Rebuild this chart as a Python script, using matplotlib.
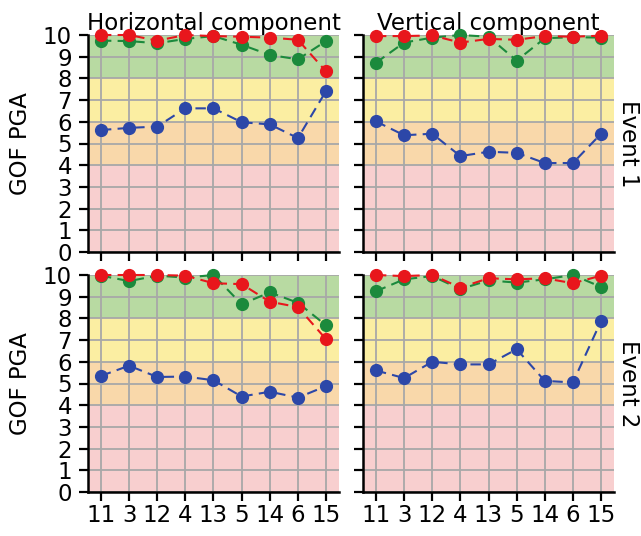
import matplotlib
matplotlib.use("Agg")
import matplotlib.pyplot as plt
import numpy as np

categories = ["11", "3", "12", "4", "13", "5", "14", "6", "15"]

# Event 1, horizontal component
e1_h_red   = [10.0, 10.0, 9.74, 10.0, 9.95, 9.92, 9.88, 9.78, 8.32]
e1_h_green = [9.74, 9.72, 9.62, 9.82, 9.95, 9.55, 9.08, 8.88, 9.72]
e1_h_blue  = [5.62, 5.72, 5.78, 6.62, 6.62, 5.98, 5.88, 5.25, 7.42]
# Event 1, vertical component
e1_v_red   = [9.95, 9.95, 9.98, 9.65, 9.82, 9.78, 9.95, 9.92, 9.97]
e1_v_green = [8.72, 9.65, 9.88, 10.0, 9.92, 8.82, 9.85, 9.9, 9.88]
e1_v_blue  = [6.02, 5.38, 5.45, 4.42, 4.62, 4.57, 4.1, 4.1, 5.45]
# Event 2, horizontal component
e2_h_red   = [10.0, 10.0, 10.0, 9.97, 9.62, 9.58, 8.77, 8.52, 7.04]
e2_h_green = [9.97, 9.72, 9.97, 9.88, 10.0, 8.65, 9.2, 8.72, 7.68]
e2_h_blue  = [5.35, 5.82, 5.3, 5.32, 5.15, 4.4, 4.62, 4.35, 4.88]
# Event 2, vertical component
e2_v_red   = [10.0, 9.95, 10.0, 9.42, 9.85, 9.8, 9.85, 9.62, 9.97]
e2_v_green = [9.25, 9.8, 9.95, 9.35, 9.75, 9.65, 9.8, 10.0, 9.45]
e2_v_blue  = [5.6, 5.25, 6.0, 5.88, 5.88, 6.58, 5.12, 5.05, 7.88]

col_titles = ["Horizontal component", "Vertical component"]
row_labels = ["Event 1", "Event 2"]
ylabel = "GOF PGA"
yticks = list(range(0, 11))

bands = [(0, 4, "#f8cfcf"), (4, 6, "#f9d8aa"), (6, 8, "#fbeea2"), (8, 10, "#b8daa2")]
c_red, c_green, c_blue = "#e8161c", "#1b8a3c", "#2c47a8"

panels = [
    [(e1_h_blue, e1_h_green, e1_h_red), (e1_v_blue, e1_v_green, e1_v_red)],
    [(e2_h_blue, e2_h_green, e2_h_red), (e2_v_blue, e2_v_green, e2_v_red)],
]

W, H = 641, 536
fig = plt.figure(figsize=(W / 100, H / 100), dpi=100)
lefts = [88 / W, 363 / W]
width = 251 / W
bottoms = [1 - 252 / H, 1 - 492 / H]
height = 217 / H

x = np.arange(len(categories))
fs = 16.5
for r in range(2):
    for c in range(2):
        ax = fig.add_axes([lefts[c], bottoms[r], width, height])
        for lo, hi, col in bands:
            ax.axhspan(lo, hi, color=col, zorder=0, lw=0)
        ax.set_xlim(-0.46, 8.46)
        ax.set_ylim(0, 10)
        ax.set_xticks(x)
        ax.set_yticks(yticks)
        ax.grid(True, color="#a8a8a8", lw=1.3, zorder=1)
        ax.set_axisbelow(False)
        blue, green, red = panels[r][c]
        for data, col, z in [(blue, c_blue, 3), (green, c_green, 4), (red, c_red, 5)]:
            ax.plot(x, data, color=col, ls=(0, (5, 3)), lw=1.5, marker="o",
                    ms=8.5, zorder=z, clip_on=False)
        for s in ["top", "right"]:
            ax.spines[s].set_visible(False)
        for s in ["left", "bottom"]:
            ax.spines[s].set_linewidth(1.8)
            ax.spines[s].set_color("black")
            ax.spines[s].set_zorder(6)
        ax.tick_params(direction="out", length=6.5, width=1.6, labelsize=fs)
        ax.tick_params(axis="x", pad=2)
        ax.tick_params(axis="y", pad=5)
        if r == 0:
            ax.set_xticklabels([])
            ax.set_title(col_titles[c], fontsize=fs, pad=2)
        else:
            ax.set_xticklabels(categories)
        if c == 0:
            ax.set_yticklabels([str(v) for v in yticks])
            ax.set_ylabel(ylabel, fontsize=fs, labelpad=8)
        else:
            ax.set_yticklabels([])
            ycen = bottoms[r] + height / 2
            fig.text(629 / W, ycen, row_labels[r], fontsize=fs, rotation=270,
                     ha="center", va="center")

fig.savefig("out.png", dpi=100)
